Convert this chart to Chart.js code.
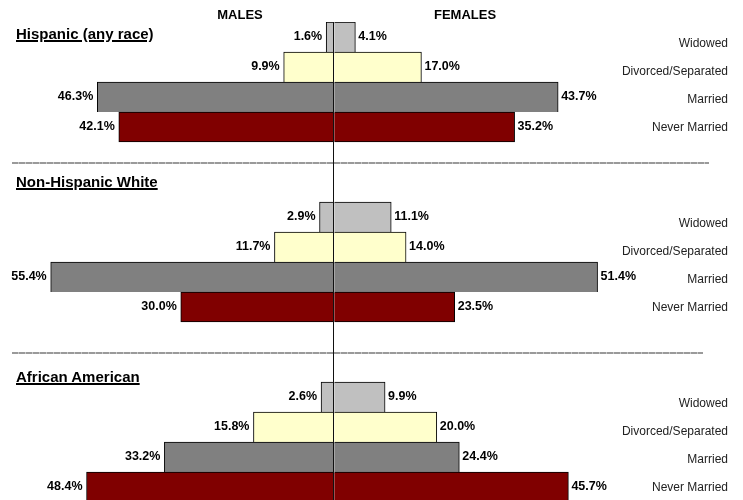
<!DOCTYPE html>
<html>
<head>
<meta charset="utf-8">
<script src="https://cdn.jsdelivr.net/npm/chart.js@4.4.1/dist/chart.umd.min.js"></script>
<style>
  html, body { margin: 0; padding: 0; background: #fff; overflow: hidden; }
  #wrap { position: relative; width: 743px; height: 500px; overflow: hidden; }
  #chartBox { position: absolute; left: 0; top: 0; width: 743px; height: 502px; }
  .head { position: absolute; top: 7.5px; font: bold 13px "Liberation Sans", Arial, sans-serif; line-height: 13px; color: #000; transform: translateX(-50%); white-space: nowrap; }
  .group { position: absolute; left: 16px; font: bold 15px "Liberation Sans", Arial, sans-serif; line-height: 15px; color: #000; text-decoration: underline; text-decoration-thickness: 2px; text-underline-offset: 1px; white-space: nowrap; }
  .rule { position: absolute; left: 12px; height: 2px; background: repeating-linear-gradient(90deg, #9a9a9a 0 6px, #c8c8c8 6px 7px); }
</style>
</head>
<body>
<div id="wrap">
  <div class="rule" style="top:162px; width:697px;"></div>
  <div class="rule" style="top:352px; width:691px;"></div>
  <div id="chartBox"><canvas id="maritalChart"></canvas></div>
  <div class="head" style="left:240px;">MALES</div>
  <div class="head" style="left:465px;">FEMALES</div>
</div>
<script>
const statuses = ['Widowed', 'Divorced/Separated', 'Married', 'Never Married'];
const groups = ['Hispanic (any race)', 'Non-Hispanic White', 'African American'];

const malesHispanic   = [1.6, 9.9, 46.3, 42.1];
const femalesHispanic = [4.1, 17.0, 43.7, 35.2];
const malesWhite      = [2.9, 11.7, 55.4, 30.0];
const femalesWhite    = [11.1, 14.0, 51.4, 23.5];
const malesBlack      = [2.6, 15.8, 33.2, 48.4];
const femalesBlack    = [9.9, 20.0, 24.4, 45.7];

const statusColors = ['#C0C0C0', '#FFFFCC', '#808080', '#800000'];

// each group gets 4 bar rows plus 2 empty rows of spacing (none after the last)
const slotsPerGroup = 6;
const males = [malesHispanic, malesWhite, malesBlack];
const females = [femalesHispanic, femalesWhite, femalesBlack];

const rowLabels = [];
const maleRows = [];
const femaleRows = [];
groups.forEach((g, gi) => {
  statuses.forEach((s, si) => {
    rowLabels.push(s);
    maleRows.push(-males[gi][si]);
    femaleRows.push(females[gi][si]);
  });
  if (gi < groups.length - 1) {
    for (let k = statuses.length; k < slotsPerGroup; k++) {
      rowLabels.push('');
      maleRows.push(null);
      femaleRows.push(null);
    }
  }
});

// group headings above each block
const titleTops = [25.5, 173.5, 368.5];
groups.forEach((g, gi) => {
  const el = document.createElement('div');
  el.className = 'group';
  el.style.top = titleTops[gi] + 'px';
  el.textContent = g;
  document.getElementById('wrap').appendChild(el);
});

const pyramidLabels = {
  id: 'pyramidLabels',
  afterDatasetsDraw(chart) {
    const { ctx, scales: { x, y }, chartArea } = chart;
    ctx.save();

    // centre axis through all three blocks
    const x0 = Math.round(x.getPixelForValue(0)) - 0.5;
    ctx.strokeStyle = '#111';
    ctx.lineWidth = 1;
    ctx.beginPath();
    ctx.moveTo(x0, chartArea.top);
    ctx.lineTo(x0, chartArea.bottom);
    ctx.stroke();

    // percentage at the end of every bar
    ctx.font = 'bold 12.5px "Liberation Sans", Arial, sans-serif';
    ctx.fillStyle = '#000';
    ctx.textBaseline = 'middle';
    chart.data.datasets.forEach((ds, di) => {
      chart.getDatasetMeta(di).data.forEach((bar, i) => {
        const v = ds.data[i];
        if (v == null) return;
        const txt = Math.abs(v).toFixed(1) + '%';
        if (v < 0) {
          ctx.textAlign = 'right';
          ctx.fillText(txt, bar.x - 4, bar.y);
        } else {
          ctx.textAlign = 'left';
          ctx.fillText(txt, bar.x + 3, bar.y);
        }
      });
    });

    // status names down the right side
    ctx.font = '12px "Liberation Sans", Arial, sans-serif';
    ctx.fillStyle = '#222';
    ctx.textAlign = 'right';
    groups.forEach((g, gi) => {
      const lastRow = y.getPixelForValue(gi * slotsPerGroup + statuses.length - 1);
      statuses.forEach((s, si) => {
        ctx.fillText(s, chartArea.right - 15, lastRow + 1 - (statuses.length - 1 - si) * 28);
      });
    });
    ctx.restore();
  }
};

const barColor = ctx => statusColors[ctx.dataIndex % slotsPerGroup] || '#fff';
const barBorder = ctx => {
  const last = (ctx.dataIndex % slotsPerGroup) === statuses.length - 1;
  return { top: 1, left: 1, right: 1, bottom: last ? 1 : 0 };
};

new Chart(document.getElementById('maritalChart'), {
  type: 'bar',
  data: {
    labels: rowLabels,
    datasets: [
      {
        label: 'Males',
        data: maleRows,
        backgroundColor: barColor,
        borderColor: '#000',
        borderWidth: barBorder,
        borderSkipped: 'start',
        barPercentage: 1,
        categoryPercentage: 1
      },
      {
        label: 'Females',
        data: femaleRows,
        backgroundColor: barColor,
        borderColor: '#000',
        borderWidth: barBorder,
        borderSkipped: 'start',
        barPercentage: 1,
        categoryPercentage: 1
      }
    ]
  },
  options: {
    indexAxis: 'y',
    responsive: true,
    maintainAspectRatio: false,
    animation: false,
    layout: { padding: { top: 22, bottom: 0, left: 0, right: 0 } },
    scales: {
      x: { stacked: true, min: -65.3, max: 79.8, display: false },
      y: { stacked: true, display: false }
    },
    plugins: {
      legend: { display: false },
      tooltip: { enabled: false }
    }
  },
  plugins: [pyramidLabels]
});
</script>
</body>
</html>
